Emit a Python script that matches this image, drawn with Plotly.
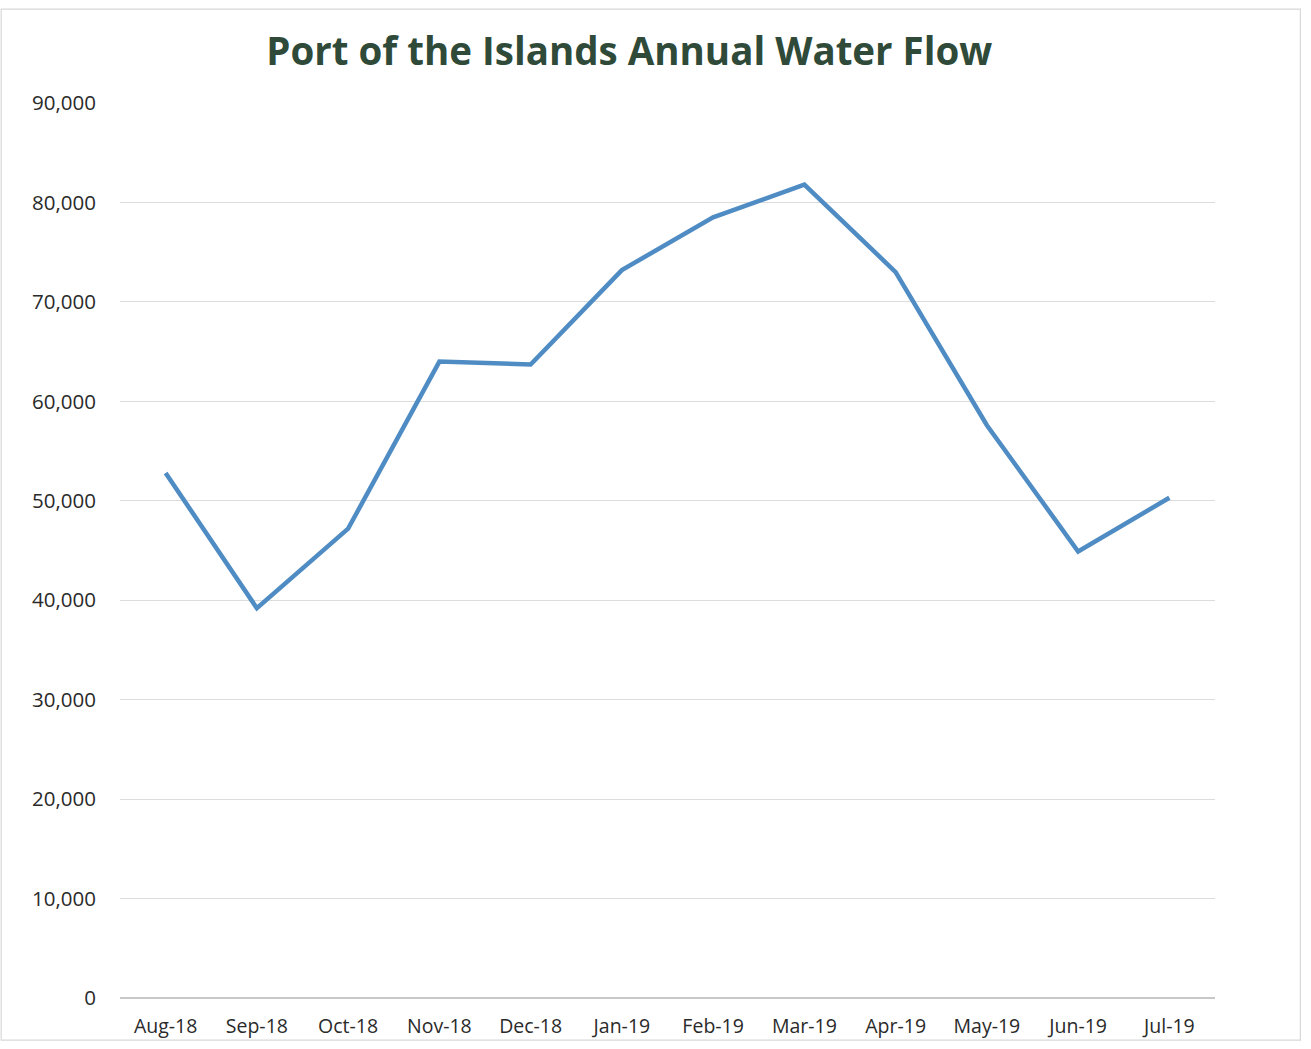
import plotly.graph_objects as go

months = ["Aug-18", "Sep-18", "Oct-18", "Nov-18", "Dec-18", "Jan-19",
          "Feb-19", "Mar-19", "Apr-19", "May-19", "Jun-19", "Jul-19"]
water_flow = [52800, 39200, 47200, 64000, 63700, 73200,
              78500, 81800, 73000, 57600, 44900, 50300]
y_ticks = [0, 10000, 20000, 30000, 40000, 50000, 60000, 70000, 80000, 90000]
y_tick_labels = ["0", "10,000", "20,000", "30,000", "40,000", "50,000",
                 "60,000", "70,000", "80,000", "90,000"]

fig = go.Figure()
fig.add_trace(go.Scatter(
    x=months, y=water_flow, mode="lines",
    line=dict(color="#4f8cc4", width=4.5),
    showlegend=False,
))

fig.update_layout(
    width=1311, height=1049,
    margin=dict(l=120, r=96, t=103, b=51),
    paper_bgcolor="white", plot_bgcolor="white",
    title=dict(
        text="<b>Port of the Islands Annual Water Flow</b>",
        x=0.48, xanchor="center", y=0.951, yanchor="middle",
        font=dict(family="Open Sans", size=38.5, color="#2f4a38"),
    ),
    font=dict(family="Open Sans", color="#2a2a2a"),
)

fig.update_xaxes(
    type="category", range=[-0.5, 11.5],
    showgrid=False, showline=False, zeroline=False,
    ticks="", tickfont=dict(size=19.5, color="#2a2a2a"),
    ticklabelstandoff=14, automargin=False,
)
fig.update_yaxes(
    range=[0, 90000], tickvals=y_ticks, ticktext=y_tick_labels,
    showgrid=True, gridcolor="#dcdcdc", gridwidth=1.2,
    zeroline=True, zerolinecolor="#c8c8c8", zerolinewidth=1.5,
    showline=False, ticks="", tickfont=dict(size=20.5, color="#2a2a2a"),
    ticklabelstandoff=23, automargin=False,
)

# faint outer chart border
fig.add_shape(type="rect", xref="paper", yref="paper",
              x0=-0.1085, x1=1.078, y0=-0.047, y1=1.105,
              line=dict(color="#d8d8d8", width=1.2))

fig.write_html("out.html")
